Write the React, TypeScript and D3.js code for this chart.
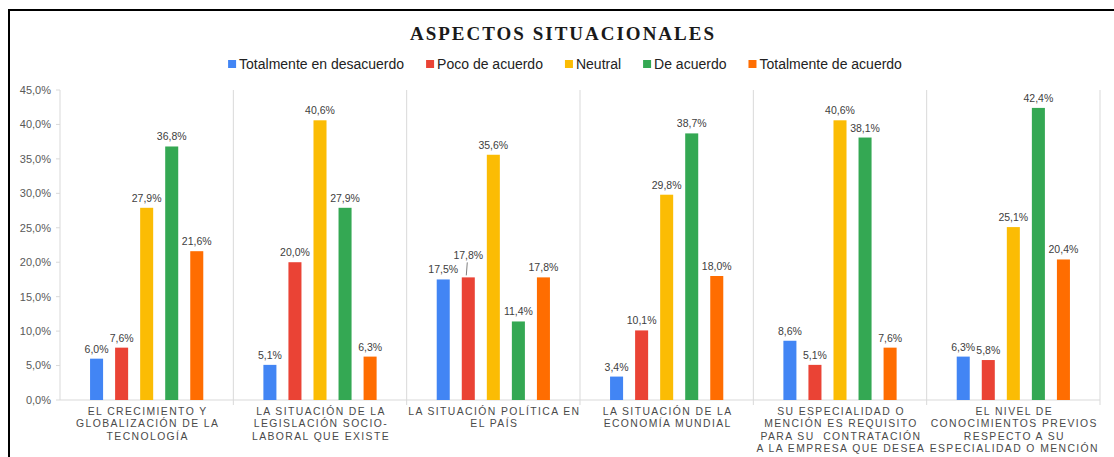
import React, { useEffect, useRef } from "react";
import * as d3 from "d3";

const title = "ASPECTOS SITUACIONALES";
const categories: string[][] = [
  ["EL CRECIMIENTO Y", "GLOBALIZACIÓN DE LA", "TECNOLOGÍA"],
  ["LA SITUACIÓN DE LA", "LEGISLACIÓN SOCIO-", "LABORAL QUE EXISTE"],
  ["LA SITUACIÓN POLÍTICA EN", "EL PAÍS"],
  ["LA SITUACIÓN DE LA", "ECONOMÍA MUNDIAL"],
  ["SU ESPECIALIDAD O", "MENCIÓN ES REQUISITO", "PARA SU  CONTRATACIÓN", "A LA EMPRESA QUE DESEA"],
  ["EL NIVEL DE", "CONOCIMIENTOS PREVIOS", "RESPECTO A SU", "ESPECIALIDAD O MENCIÓN"],
];
const seriesNames = [
  "Totalmente en desacuerdo",
  "Poco de acuerdo",
  "Neutral",
  "De acuerdo",
  "Totalmente de acuerdo",
];
const seriesColors = ["#4285F4", "#EA4335", "#FBBC04", "#34A853", "#FF6D01"];
const totalmenteDesacuerdo = [6.0, 5.1, 17.5, 3.4, 8.6, 6.3];
const pocoAcuerdo = [7.6, 20.0, 17.8, 10.1, 5.1, 5.8];
const neutral = [27.9, 40.6, 35.6, 29.8, 40.6, 25.1];
const deAcuerdo = [36.8, 27.9, 11.4, 38.7, 38.1, 42.4];
const totalmenteAcuerdo = [21.6, 6.3, 17.8, 18.0, 7.6, 20.4];
const yTicks = [0, 5, 10, 15, 20, 25, 30, 35, 40, 45];

const W = 1114;
const H = 457;

export default function App() {
  const ref = useRef<SVGSVGElement>(null);
  useEffect(() => {
    const svg = d3.select(ref.current);
    svg.selectAll("*").remove();
    const series = [totalmenteDesacuerdo, pocoAcuerdo, neutral, deAcuerdo, totalmenteAcuerdo];
    const left = 60, right = 1100, top = 90, bottom = 400;

    svg.append("rect").attr("width", W).attr("height", H).attr("fill", "#fff");
    svg.append("rect").attr("x", 9).attr("y", 10).attr("width", 1120).attr("height", 500)
      .attr("fill", "none").attr("stroke", "#000").attr("stroke-width", 2);

    svg.append("text").attr("x", 563).attr("y", 40).attr("text-anchor", "middle")
      .attr("font-family", "Liberation Serif, Times New Roman, serif").attr("font-weight", "bold")
      .attr("font-size", 19).attr("letter-spacing", 2).attr("fill", "#1a1a1a").text(title);

    // legend
    const lg = svg.append("g").attr("font-family", "Liberation Sans, Arial, sans-serif").attr("font-size", 14).attr("fill", "#222");
    const items: { g: any; w: number }[] = [];
    seriesNames.forEach((n, i) => {
      const g = lg.append("g");
      g.append("rect").attr("x", 0).attr("y", -4).attr("width", 8).attr("height", 8).attr("fill", seriesColors[i]);
      const t = g.append("text").attr("x", 11).attr("y", 0).attr("dy", "0.35em").text(n);
      const w = 11 + (t.node() as SVGTextElement).getComputedTextLength();
      items.push({ g, w });
    });
    const gap = 22;
    const total = d3.sum(items, (d) => d.w) + gap * (items.length - 1);
    let cx = 565 - total / 2;
    items.forEach((it) => {
      it.g.attr("transform", `translate(${cx},64)`);
      cx += it.w + gap;
    });

    const x0 = d3.scaleBand<number>().domain(d3.range(categories.length)).range([left, right]);
    const x1 = d3.scaleBand<number>().domain(d3.range(seriesNames.length)).range([0, x0.bandwidth()])
      .paddingInner(0.48).paddingOuter(1.2);
    const y = d3.scaleLinear().domain([0, 45]).range([bottom, top]);

    // y axis
    const grid = "#d9d9d9";
    svg.append("line").attr("x1", left).attr("x2", left).attr("y1", top).attr("y2", bottom).attr("stroke", grid);
    const yt = svg.append("g").attr("font-family", "Liberation Sans, Arial, sans-serif").attr("font-size", 11).attr("fill", "#595959");
    yTicks.forEach((v) => {
      yt.append("line").attr("x1", left - 4).attr("x2", left).attr("y1", y(v)).attr("y2", y(v)).attr("stroke", grid);
      yt.append("text").attr("x", 51).attr("y", y(v)).attr("dy", "0.35em").attr("text-anchor", "end")
        .text(d3.format(".1f")(v).replace(".", ",") + "%");
    });
    // separators
    d3.range(1, categories.length + 1).forEach((i) => {
      const xx = i < categories.length ? x0(i)! : right;
      svg.append("line").attr("x1", xx).attr("x2", xx).attr("y1", top).attr("y2", bottom + 5).attr("stroke", grid);
    });
    svg.append("line").attr("x1", left).attr("x2", right).attr("y1", bottom).attr("y2", bottom).attr("stroke", grid);

    // bars
    const labels = svg.append("g").attr("font-family", "Liberation Sans, Arial, sans-serif").attr("font-size", 10.5).attr("fill", "#404040").attr("text-anchor", "middle");
    categories.forEach((_, ci) => {
      series.forEach((s, si) => {
        const v = s[ci];
        const bx = x0(ci)! + x1(si)!;
        svg.append("rect").attr("x", bx).attr("y", y(v)).attr("width", x1.bandwidth()).attr("height", bottom - y(v))
          .attr("fill", seriesColors[si]);
        let ly = y(v) - 6;
        if (si > 0 && Math.abs(series[si - 1][ci] - v) < 1 && series[si - 1][ci] <= v) {
          ly -= 12;
          svg.append("line").attr("x1", bx + x1.bandwidth() / 2 - 1).attr("x2", bx + x1.bandwidth() / 2 - 2)
            .attr("y1", ly + 3).attr("y2", y(v) - 2).attr("stroke", "#808080").attr("stroke-width", 1);
        }
        labels.append("text").attr("x", bx + x1.bandwidth() / 2).attr("y", ly)
          .text(d3.format(".1f")(v).replace(".", ",") + "%");
      });
    });

    // category labels
    const cl = svg.append("g").attr("font-family", "Liberation Sans, Arial, sans-serif").attr("font-size", 10.4)
      .attr("letter-spacing", 1.4).attr("fill", "#4a4a4a").attr("text-anchor", "middle");
    categories.forEach((lines, ci) => {
      lines.forEach((ln, li) => {
        cl.append("text").attr("x", x0(ci)! + x0.bandwidth() / 2 + 1).attr("y", 415 + li * 12.3)
          .attr("xml:space", "preserve").style("white-space", "pre").text(ln);
      });
    });
  }, []);
  return (
    <svg ref={ref} width={W} height={H} style={{ position: "fixed", left: 0, top: 0 }} />
  );
}
